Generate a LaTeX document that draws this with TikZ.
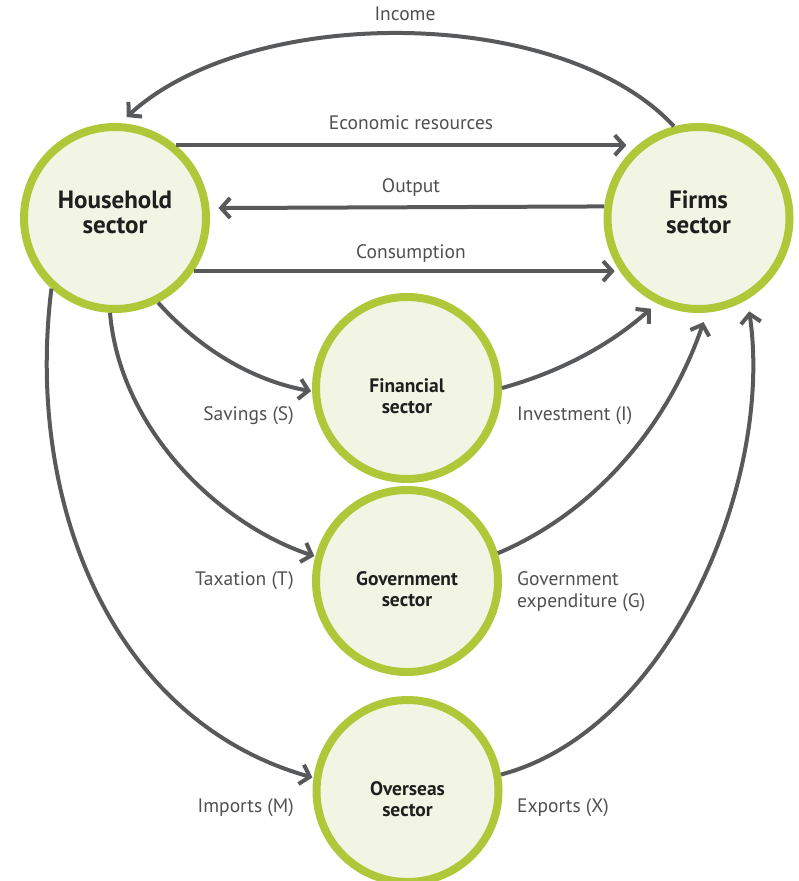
\documentclass[tikz,border=0pt]{standalone}
\usepackage{fontspec}
\setmainfont{PT Sans}
\usetikzlibrary{arrows.meta}
\definecolor{ring}{HTML}{AFC83A}
\definecolor{disc}{HTML}{F2F5E4}
\definecolor{flow}{HTML}{58595B}
\definecolor{txt}{HTML}{505050}
\begin{document}
\begin{tikzpicture}[x=1pt,y=-1pt,
  sector/.style={circle, draw=ring, fill=disc, line width=8pt, minimum size=182pt, inner sep=0pt, align=center, text=black!88},
  bigsec/.style={sector, font=\bfseries\fontsize{25}{25}\selectfont, text depth=12pt},
  smallsec/.style={sector, font=\bfseries\fontsize{19.5}{21}\selectfont, text height=51pt},
  flowline/.style={draw=flow, line width=4pt, -{Straight Barb[length=9pt,width=20pt]}},
  lbl/.style={text=txt, font=\fontsize{19.5}{22}\selectfont, inner sep=0pt}
]
\useasboundingbox (0,0) rectangle (798,881);
\node[bigsec] (hh) at (115,218) {Household\\sector};
\node[bigsec] (fi) at (698.5,218) {Firms\\sector};
\node[smallsec] (fin) at (407,388) {Financial\\sector};
\node[smallsec] (gov) at (407,581) {Government\\sector};
\node[smallsec] (ov) at (407.5,791) {Overseas\\sector};

% top flows
\draw[flowline, shorten >=9pt] (fi.105.6) .. controls (560,4) and (250,4) .. (hh.87);
\draw[flowline, shorten >=11pt] (hh.50) -- (fi.130);
\draw[flowline, shorten >=9pt] (fi.173.4) -- (hh.6.6);
\draw[flowline, shorten >=5pt] (hh.-34.6) -- (fi.214.6);

% left flows
\draw[flowline, shorten >=1pt] (hh.-63) .. controls (205,355) and (260,382) .. (fin.182);
\draw[flowline, shorten >=1pt] (hh.267) .. controls (120,430) and (220,525) .. (gov.165);
\draw[flowline, shorten >=1pt] (hh.228) .. controls (25,500) and (110,720) .. (ov.172);

% right flows
\draw[flowline, shorten >=8pt] (fin.0) .. controls (560,372) and (610,345) .. (fi.244);
\draw[flowline, shorten >=10pt] (gov.17) .. controls (600,510) and (670,420) .. (fi.275);
\draw[flowline, shorten >=12pt] (ov.10) .. controls (670,730) and (774,480) .. (fi.301);

% labels
\node[lbl] (lincome) at (405,14) {Income};
\node[lbl] (lres) at (411,123) {Economic resources};
\node[lbl] (lout) at (411,188) {Output};
\node[lbl] (lcons) at (411,254) {Consumption};
\node[lbl, anchor=east] (lsav) at (294,416) {Savings (S)};
\node[lbl, anchor=east] (ltax) at (294,581) {Taxation (T)};
\node[lbl, anchor=east] (limp) at (294,808) {Imports (M)};
\node[lbl, anchor=west] (linv) at (517,416) {Investment (I)};
\node[lbl, anchor=west, align=left] (lgov) at (517,592) {Government\\expenditure (G)};
\node[lbl, anchor=west] (lexp) at (517,808) {Exports (X)};
\end{tikzpicture}
\end{document}
